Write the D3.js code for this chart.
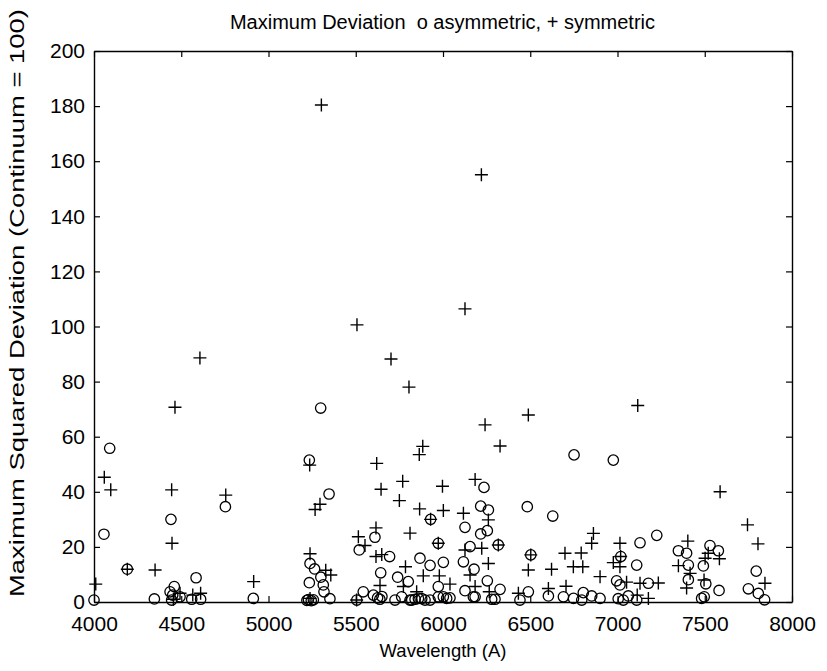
<!DOCTYPE html>
<html>
<head>
<meta charset="utf-8">
<script src="https://d3js.org/d3.v7.min.js"></script>
<style>
  html, body { margin: 0; padding: 0; background: #fff; }
  svg { display: block; font-family: "Liberation Sans", Arial, sans-serif; }
  text { white-space: pre; }
</style>
</head>
<body>
<div id="chart"></div>
<script>
// Asymmetric line profiles (drawn as circles): wavelength in Å, max squared deviation
const asymWavelength = [4000,4057,4090,4191,4346,4436,4441,4445,4451,4460,4493,4560,4585,4611,4753,4913,
  5220,5229,5234,5234,5238,5245,5257,5264,5300,5299,5314,5318,5347,5352,
  5506,5520,5543,5601,5610,5625,5638,5643,5650,5694,5725,5740,5763,5801,5811,5821,5840,5859,5868,5878,5897,
  5926,5926,5929,5973,5973,5973,6002,6002,6021,6040,6117,6126,6126,6155,6174,6178,6184,6216,6216,6235,
  6254,6254,6260,6279,6298,6317,6327,6441,6483,6489,6503,6604,6629,6690,6748,6751,6795,6804,6852,6900,
  6976,6995,7004,7014,7019,7033,7062,7110,7110,7129,7177,7225,7349,7396,7406,7406,7482,7492,7497,7506,
  7530,7578,7582,7750,7795,7807,7843];
const asymDeviation = [0.7,24.6,55.8,11.9,1.1,3.7,30.0,0.7,2.5,5.6,1.9,1.0,8.8,1.0,34.6,1.3,
  0.6,0.9,51.5,7.0,14.0,0.5,0.8,12.0,9.0,70.4,6.2,3.7,39.2,1.2,
  0.7,18.9,3.7,2.5,23.5,1.5,1.0,10.6,2.0,16.5,0.7,9.0,1.9,7.4,0.7,0.7,1.0,1.3,15.9,1.2,0.7,
  13.3,0.7,30.0,21.3,5.6,1.9,14.4,1.9,1.3,1.5,14.6,27.1,4.1,20.1,1.9,11.9,1.9,34.8,24.7,41.6,
  25.9,7.7,33.4,1.0,1.0,20.7,4.6,0.7,34.6,3.7,17.1,2.2,31.2,1.9,1.3,53.4,0.7,3.4,2.2,1.3,
  51.5,7.7,1.2,6.2,16.5,0.7,2.2,13.4,0.7,21.5,6.8,24.2,18.6,17.7,13.4,8.1,1.3,13.1,1.9,6.6,
  20.5,18.6,4.2,4.8,11.2,3.1,0.8];

// Symmetric line profiles (drawn as plus signs)
const symWavelength = [4010,4059,4096,4191,4350,4445,4447,4455,4464,4493,4566,4607,4611,4755,4915,
  5236,5238,5238,5267,5295,5303,5328,5357,
  5505,5507,5515,5553,5616,5616,5620,5639,5645,5649,5702,5750,5769,5773,5785,5805,5811,5849,5864,5866,5884,5887,
  5929,5973,5979,5997,6002,6040,6117,6126,6126,6155,6184,6184,6220,6222,6241,6260,6260,6265,
  6317,6327,6432,6489,6489,6503,6604,6622,6699,6705,6747,6792,6801,6852,6862,6900,6976,
  7014,7014,7018,7052,7113,7116,7129,7177,7234,7349,7396,7403,7416,7496,7502,7520,7584,7588,7745,7805,7845];
const symDeviation = [6.5,45.3,40.7,11.9,11.6,40.7,21.3,1.0,70.7,3.2,2.5,88.6,3.2,38.8,7.4,
  49.7,17.5,1.3,33.6,35.5,180.4,11.5,9.8,
  0.7,100.6,23.7,20.5,26.9,16.5,50.3,6.0,40.9,17.2,88.2,36.8,43.8,5.6,12.8,78.0,25.0,3.7,53.5,33.8,56.5,9.5,
  30.0,21.3,9.5,42.0,33.2,6.5,32.2,106.4,18.9,9.8,44.5,5.6,155.1,19.5,64.3,29.8,14.0,3.7,
  20.7,56.6,3.2,67.9,11.6,17.1,4.9,11.9,17.7,5.7,12.8,17.8,12.8,21.3,24.9,9.2,14.3,
  21.3,12.8,16.5,7.2,2.5,71.3,6.8,1.3,6.9,13.2,5.1,22.1,10.4,8.0,15.9,17.7,15.7,40.0,28.0,21.1,6.8];

const xTicks = [4000,4500,5000,5500,6000,6500,7000,7500,8000];
const yTicks = [0,20,40,60,80,100,120,140,160,180,200];

const titleText = "Maximum Deviation  o asymmetric, + symmetric";
const xLabelText = "Wavelength (A)";
const yLabelText = "Maximum Squared Deviation (Continuum = 100)";

const W = 827, H = 671;
const plot = { left: 94, right: 792, top: 51, bottom: 602 };

const svg = d3.select("#chart").append("svg")
  .attr("width", W).attr("height", H);

const x = d3.scaleLinear().domain([4000, 8000]).range([plot.left, plot.right]);
const y = d3.scaleLinear().domain([0, 200]).range([plot.bottom, plot.top]);

const tickLen = 6;
const tickFont = 21;

// Axes: ticks point inward on all four sides of the box
const axisStyle = g => {
  g.selectAll(".domain").attr("stroke", "#000").attr("stroke-width", 1.4);
  g.selectAll(".tick line").attr("stroke", "#000").attr("stroke-width", 1.2);
  g.selectAll("text").attr("fill", "#000").style("font-size", tickFont + "px")
    .style("font-family", "'Liberation Sans', Arial, sans-serif");
};

svg.append("g").attr("transform", `translate(0,${plot.bottom})`)
  .call(d3.axisBottom(x).tickValues(xTicks).tickFormat(d3.format("d"))
    .tickSizeInner(-tickLen).tickSizeOuter(0).tickPadding(14))
  .call(axisStyle);

svg.append("g").attr("transform", `translate(0,${plot.top})`)
  .call(d3.axisTop(x).tickValues(xTicks).tickFormat("")
    .tickSizeInner(-tickLen).tickSizeOuter(0))
  .call(axisStyle);

svg.append("g").attr("transform", `translate(${plot.left},0)`)
  .call(d3.axisLeft(y).tickValues(yTicks).tickFormat(d3.format("d"))
    .tickSizeInner(-tickLen).tickSizeOuter(0).tickPadding(9))
  .call(axisStyle);

svg.append("g").attr("transform", `translate(${plot.right},0)`)
  .call(d3.axisRight(y).tickValues(yTicks).tickFormat("")
    .tickSizeInner(-tickLen).tickSizeOuter(0))
  .call(axisStyle);

// Markers
const asym = asymWavelength.map((w, i) => ({ w, v: asymDeviation[i] }));
const sym = symWavelength.map((w, i) => ({ w, v: symDeviation[i] }));

svg.append("g").selectAll("circle").data(asym).join("circle")
  .attr("cx", d => x(d.w)).attr("cy", d => y(d.v)).attr("r", 5.2)
  .attr("fill", "none").attr("stroke", "#000").attr("stroke-width", 1.3);

const arm = 6.5;
svg.append("g").selectAll("path").data(sym).join("path")
  .attr("d", d => {
    const cx = x(d.w), cy = y(d.v);
    return `M${cx - arm},${cy}H${cx + arm}M${cx},${cy - arm}V${cy + arm}`;
  })
  .attr("fill", "none").attr("stroke", "#000").attr("stroke-width", 1.4);

// Titles
svg.append("text").attr("x", (plot.left + plot.right) / 2 - 0.5).attr("y", 29)
  .attr("text-anchor", "middle").style("font-size", "20px").text(titleText);

svg.append("text").attr("x", (plot.left + plot.right) / 2).attr("y", 657)
  .attr("text-anchor", "middle").style("font-size", "18.5px").text(xLabelText);

svg.append("text")
  .attr("transform", "translate(24,303) rotate(-90)")
  .attr("text-anchor", "middle").style("font-size", "21px")
  .attr("textLength", 588).attr("lengthAdjust", "spacingAndGlyphs")
  .text(yLabelText);
</script>
</body>
</html>
